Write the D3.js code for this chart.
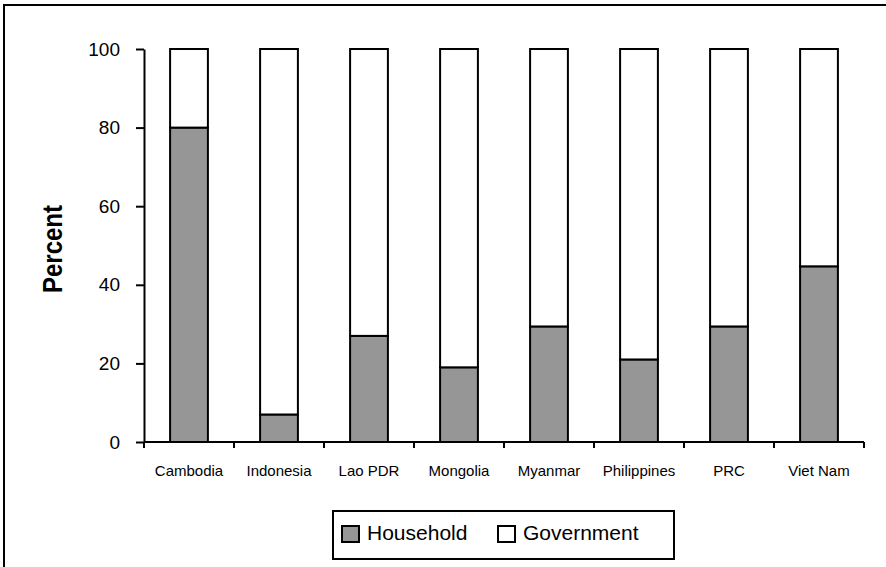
<!DOCTYPE html>
<html>
<head>
<meta charset="utf-8">
<script src="https://cdn.jsdelivr.net/npm/d3@7/dist/d3.min.js"></script>
<style>
  html, body { margin: 0; padding: 0; background: #fff; }
  svg { display: block; font-family: "Liberation Sans", Arial, sans-serif; }
</style>
</head>
<body>
<svg id="chart" width="886" height="567"></svg>
<script>
// Share of spending by source, percent
const countries = ["Cambodia", "Indonesia", "Lao PDR", "Mongolia", "Myanmar", "Philippines", "PRC", "Viet Nam"];
const household = [80, 7, 27, 19, 29.4, 21, 29.4, 44.7];
const government = household.map(v => 100 - v);
const seriesNames = ["Household", "Government"];
const seriesColors = ["#969696", "#ffffff"];
const yTicks = [0, 20, 40, 60, 80, 100];

const svg = d3.select("#chart");

// Frame lines (top and left)
svg.append("path")
  .attr("d", "M4,886 V5 H886")
  .attr("fill", "none").attr("stroke", "#000").attr("stroke-width", 2);

const margin = { left: 144, right: 864, top: 49, bottom: 442 };

const x = d3.scaleBand().domain(countries).range([margin.left, margin.right]).paddingInner(0.58).paddingOuter(0.29);
const xTick = d3.scalePoint().domain(d3.range(countries.length + 1)).range([margin.left, margin.right]);
const y = d3.scaleLinear().domain([0, 100]).range([margin.bottom, margin.top]);

const rows = countries.map((c, i) => ({ country: c, Household: household[i], Government: government[i] }));
const stacked = d3.stack().keys(seriesNames)(rows);

// Bars
svg.append("g").selectAll("g")
  .data(stacked).join("g")
  .attr("fill", (d, i) => seriesColors[i])
  .selectAll("rect")
  .data(d => d).join("rect")
  .attr("x", d => x(d.data.country))
  .attr("width", x.bandwidth())
  .attr("y", d => y(d[1]))
  .attr("height", d => y(d[0]) - y(d[1]))
  .attr("stroke", "#000").attr("stroke-width", 2);

// Y axis
const yAxis = svg.append("g").attr("transform", `translate(${margin.left},0)`)
  .call(d3.axisLeft(y).tickValues(yTicks).tickSize(8).tickPadding(16).tickSizeOuter(0));
yAxis.select(".domain").attr("stroke", "#000").attr("stroke-width", 2);
yAxis.selectAll(".tick line").attr("stroke", "#000").attr("stroke-width", 2);
yAxis.selectAll(".tick text").attr("font-size", 19).attr("fill", "#000")
  .attr("font-family", "Liberation Sans, Arial, sans-serif");

// X axis baseline with boundary ticks
const xg = svg.append("g");
xg.append("line")
  .attr("x1", margin.left).attr("x2", margin.right)
  .attr("y1", margin.bottom).attr("y2", margin.bottom)
  .attr("stroke", "#000").attr("stroke-width", 2);
xg.selectAll("line.tk")
  .data(xTick.domain()).join("line").attr("class", "tk")
  .attr("x1", d => xTick(d)).attr("x2", d => xTick(d))
  .attr("y1", margin.bottom).attr("y2", margin.bottom + 6)
  .attr("stroke", "#000").attr("stroke-width", 2);
xg.selectAll("text")
  .data(countries).join("text")
  .attr("x", d => x(d) + x.bandwidth() / 2)
  .attr("y", 476)
  .attr("text-anchor", "middle")
  .attr("font-size", 15)
  .attr("fill", "#000")
  .text(d => d);

// Y axis title
svg.append("text")
  .attr("transform", "translate(62,249) rotate(-90)")
  .attr("text-anchor", "middle")
  .attr("font-size", 27).attr("font-weight", "bold")
  .attr("textLength", 88).attr("lengthAdjust", "spacingAndGlyphs")
  .text("Percent");

// Legend
const lg = svg.append("g");
lg.append("rect").attr("x", 333).attr("y", 511).attr("width", 341).attr("height", 48)
  .attr("fill", "#fff").attr("stroke", "#000").attr("stroke-width", 2);
const legendX = [342, 498];
seriesNames.forEach((name, i) => {
  lg.append("rect").attr("x", legendX[i]).attr("y", 526).attr("width", 17).attr("height", 16)
    .attr("fill", seriesColors[i]).attr("stroke", "#000").attr("stroke-width", 2);
  lg.append("text").attr("x", legendX[i] + 25).attr("y", 540)
    .attr("font-size", 21).attr("fill", "#000").text(name);
});
</script>
</body>
</html>
